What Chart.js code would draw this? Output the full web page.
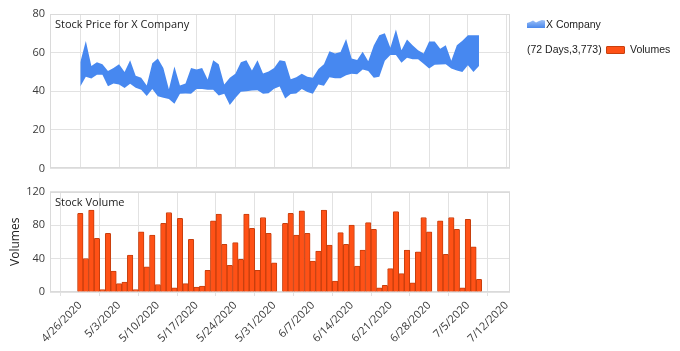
<!DOCTYPE html>
<html><head><meta charset="utf-8">
<script src="https://cdn.jsdelivr.net/npm/chart.js@4.4.1/dist/chart.umd.min.js"></script>
<style>
html,body{margin:0;padding:0;background:#fff;width:680px;height:351px;overflow:hidden;position:relative;}
#c1{position:absolute;left:0;top:0;}
#c2{position:absolute;left:0;top:180px;}
.leg{position:absolute;font:10.5px "Liberation Sans",Arial,sans-serif;color:#222;white-space:nowrap;line-height:13px;}
</style></head><body>
<canvas id="c1" width="680" height="180"></canvas>
<canvas id="c2" width="680" height="171"></canvas>
<svg style="position:absolute;left:527px;top:20px" width="18" height="8" viewBox="0 0 18 8">
<defs><linearGradient id="g" x1="0" y1="0" x2="0" y2="1"><stop offset="0" stop-color="#9cc0f7"/><stop offset="1" stop-color="#4a88ec"/></linearGradient></defs>
<polygon points="0,8 0,3 3,2 6,0.5 9,2.5 12,1 15,0 18,0.5 18,8" fill="url(#g)"/></svg>
<div class="leg" id="leg1" style="left:546px;top:18px"></div>
<div class="leg" id="leg2" style="left:527px;top:43px"></div>
<div style="position:absolute;left:606px;top:46px;width:17px;height:6px;background:#FF5116;border:1px solid #C8400E;border-radius:1px"></div>
<div class="leg" id="leg3" style="left:630px;top:43px"></div>
<script>
// ---- data ----
const seriesName = 'X Company';
const volumeName = 'Volumes';
const summaryText = '(72 Days,3,773)';
const priceTitle = 'Stock Price for X Company';
const volumeTitle = 'Stock Volume';
const yVolumeTitle = 'Volumes';
// day offsets from 4/26/2020 for each trading record
const days = [0,1,2,3,4,5,6,7,8,9,10,11,12,13,14,15,16,17,18,19,20,21,22,23,24,25,26,27,28,29,30,31,32,33,34,35,36,37,38,39,40,41,42,43,44,45,46,47,48,49,50,51,52,53,54,55,56,57,58,59,60,61,62,63,64,65,66,67,68,69,70,71,72];
const highs = [55,66,53,55,54,50.5,52,54,50,56,48,47,43,54.5,57,52,41,52.8,43,44,52,51.2,52,46,56,54,43.5,47,49,55,56,50.7,56,49.2,50.2,52,56,55.5,46.2,47.2,49,47.5,47,51.5,54,60.7,59.5,60.3,67,57,56.2,60.5,55.5,63.7,69,70,62.5,72,61.2,66.8,63.8,61.2,59.5,65.7,65.7,62,63.8,55.8,63.8,66.2,69,69,69];
const lows = [42.4,47.5,46.6,48.5,48.5,42.6,44,43.5,41.7,43.8,41.8,40.7,37.5,41.2,37.4,36.6,36,33.5,38.7,38.8,38.7,41.2,41.2,40.7,40.7,37.8,38.7,32.8,36.5,39.7,40,40.3,40.5,38.7,39,41.3,42.5,36.2,38.5,38.8,41.2,39.6,38.7,43.5,42.8,47.2,46.7,46.7,48.3,49,48.8,51.2,50.5,47,47.5,55.8,58.7,58.7,54.8,57.3,56.6,56.6,54.2,51.7,53.7,53.8,54,51.7,50.7,50,53.5,50,53];
const volumes = [94,40,98,64,3,70,25,10,12,44,3,72,30,68,9,82,95,5,88,10,63,6,7,26,85,93,57,32,59,39,93,76,26,89,70,35,null,82,94,68,97,70,37,49,98,56,13,71,57,80,31,50,83,75,5,8,28,96,22,50,11,48,89,72,null,85,45,89,75,5,87,54,15];
const tickDays = [0,7,14,21,28,35,42,49,56,63,70,77];
const tickLabels = ['4/26/2020','5/3/2020','5/10/2020','5/17/2020','5/24/2020','5/31/2020','6/7/2020','6/14/2020','6/21/2020','6/28/2020','7/5/2020','7/12/2020'];
const priceTicks = [0,20,40,60,80];
const volumeTicks = [0,40,80,120];

document.getElementById('leg1').textContent = seriesName;
document.getElementById('leg2').textContent = summaryText;
document.getElementById('leg3').textContent = volumeName;

const FONT = '"Open Sans", "Noto Sans", sans-serif';
const GRID = '#e2e2e2';
const TXT = '#3a3a3a';

const frame = {id:'frame', beforeDatasetsDraw(c){const a=c.chartArea,x=c.ctx;x.save();x.strokeStyle='#dadada';x.lineWidth=1;x.strokeRect(Math.round(a.left)+0.5,Math.round(a.top)+0.5,Math.round(a.right-a.left)-1,Math.round(a.bottom-a.top)-1);x.restore();}};
function panelTitle(text){return {id:'pt', afterDatasetsDraw(c){const a=c.chartArea,x=c.ctx;x.save();x.font='11px '+FONT;x.fillStyle='#222';x.textBaseline='middle';x.textAlign='left';x.fillText(text,a.left+5,a.top+11);x.restore();}};}

const xMin = -5.47, xMax = 77.6;

new Chart(document.getElementById('c1'), {
  type:'line',
  data:{datasets:[
    {label:'High', data: days.map((d,i)=>({x:d,y:highs[i]})), fill:'+1', backgroundColor:'#4788F0', borderColor:'rgba(0,0,0,0)', borderWidth:0, pointRadius:0, tension:0},
    {label:'Low', data: days.map((d,i)=>({x:d,y:lows[i]})), fill:false, borderColor:'rgba(0,0,0,0)', borderWidth:0, pointRadius:0, tension:0}
  ]},
  options:{
    responsive:false, animation:false, events:[],
    layout:{padding:{left:0,right:170,top:14,bottom:0}},
    plugins:{legend:{display:false},tooltip:{enabled:false}},
    scales:{
      x:{type:'linear',min:xMin,max:xMax,
         afterBuildTicks:s=>{s.ticks=tickDays.map(v=>({value:v}));},
         ticks:{display:false}, grid:{color:GRID,drawTicks:false}, border:{display:false},
         afterFit:s=>{s.height=6;}},
      y:{min:0,max:80,
         afterBuildTicks:s=>{s.ticks=priceTicks.map(v=>({value:v}));},
         ticks:{padding:5,color:TXT,font:{family:FONT,size:11}},
         grid:{color:GRID,drawTicks:false}, border:{display:false},
         afterFit:s=>{s.width=50;}}
    }
  },
  plugins:[frame, panelTitle(priceTitle)]
});

new Chart(document.getElementById('c2'), {
  type:'bar',
  data:{datasets:[
    {label:volumeName, data: days.map((d,i)=>({x:d,y:volumes[i]})), backgroundColor:'#FF5116', borderColor:'#C63F0E', borderWidth:1, barPercentage:1, categoryPercentage:1, borderRadius:{topLeft:1,topRight:1}}
  ]},
  options:{
    responsive:false, animation:false, events:[],
    layout:{padding:{left:0,right:170,top:6,bottom:0}},
    plugins:{legend:{display:false},tooltip:{enabled:false}},
    scales:{
      x:{type:'linear',min:xMin,max:xMax,offset:false,
         afterBuildTicks:s=>{s.ticks=tickDays.map(v=>({value:v}));},
         ticks:{autoSkip:false,minRotation:45,maxRotation:45,padding:3,color:TXT,font:{family:FONT,size:11},
                callback:(v,i)=>tickLabels[i]},
         grid:{color:GRID,tickLength:4}, border:{display:false},
         afterFit:s=>{s.height=59;}},
      y:{min:0,max:120,
         afterBuildTicks:s=>{s.ticks=volumeTicks.map(v=>({value:v}));},
         ticks:{padding:5,color:TXT,font:{family:FONT,size:11}},
         grid:{color:GRID,drawTicks:false}, border:{display:false},
         title:{display:true,text:yVolumeTitle,color:'#222',font:{family:FONT,size:12},padding:{top:8,bottom:0}},
         afterFit:s=>{s.width=50;}}
    }
  },
  plugins:[frame, panelTitle(volumeTitle)]
});
</script>
</body></html>
